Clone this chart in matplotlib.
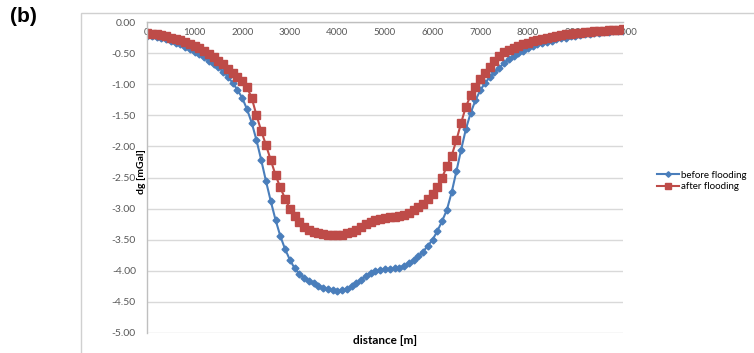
import matplotlib
matplotlib.use('Agg')
import matplotlib.pyplot as plt
import matplotlib as mpl
from matplotlib.patches import Rectangle
import numpy as np

# distance along profile [m], every 100 m
distance = list(range(0, 10001, 100))

before_flooding = [
    -0.22, -0.23, -0.24, -0.26, -0.28, -0.30, -0.33, -0.36, -0.40, -0.44,
    -0.48, -0.52, -0.57, -0.62, -0.67, -0.73, -0.80, -0.88, -0.98, -1.09,
    -1.22, -1.40, -1.62, -1.90, -2.22, -2.56, -2.88, -3.18, -3.44, -3.65,
    -3.82, -3.96, -4.05, -4.11, -4.16, -4.20, -4.24, -4.27, -4.30, -4.31,
    -4.32, -4.31, -4.29, -4.25, -4.20, -4.14, -4.08, -4.03, -4.00, -3.98,
    -3.97, -3.97, -3.96, -3.95, -3.92, -3.88, -3.83, -3.77, -3.69, -3.60,
    -3.50, -3.36, -3.20, -3.02, -2.74, -2.40, -2.05, -1.72, -1.46, -1.26,
    -1.10, -0.98, -0.89, -0.81, -0.74, -0.66, -0.60, -0.55, -0.50, -0.46,
    -0.42, -0.39, -0.36, -0.34, -0.32, -0.30, -0.28, -0.26, -0.25, -0.23,
    -0.22, -0.21, -0.20, -0.19, -0.18, -0.17, -0.16, -0.155, -0.15, -0.14,
    -0.14,
]

after_flooding = [
    -0.18, -0.19, -0.20, -0.21, -0.23, -0.25, -0.27, -0.29, -0.32, -0.35,
    -0.38, -0.42, -0.47, -0.52, -0.57, -0.62, -0.68, -0.75, -0.82, -0.89,
    -0.95, -1.05, -1.22, -1.50, -1.75, -1.98, -2.22, -2.46, -2.66, -2.84,
    -3.00, -3.12, -3.22, -3.29, -3.34, -3.37, -3.39, -3.41, -3.42, -3.43,
    -3.43, -3.42, -3.40, -3.37, -3.34, -3.30, -3.25, -3.21, -3.18, -3.16,
    -3.15, -3.14, -3.13, -3.12, -3.10, -3.07, -3.03, -2.98, -2.92, -2.85,
    -2.76, -2.65, -2.50, -2.32, -2.15, -1.90, -1.62, -1.36, -1.18, -1.05,
    -0.92, -0.82, -0.72, -0.63, -0.55, -0.49, -0.45, -0.41, -0.38, -0.35,
    -0.33, -0.31, -0.29, -0.27, -0.25, -0.24, -0.22, -0.21, -0.20, -0.19,
    -0.18, -0.17, -0.165, -0.16, -0.15, -0.145, -0.14, -0.135, -0.13, -0.125,
    -0.12,
]

x_ticks = [0, 1000, 2000, 3000, 4000, 5000, 6000, 7000, 8000, 9000, 10000]
y_ticks = [0.0, -0.5, -1.0, -1.5, -2.0, -2.5, -3.0, -3.5, -4.0, -4.5, -5.0]

mpl.rcParams.update({
    "font.family": ["Lato", "DejaVu Sans"],
    "font.size": 7,
})

W, H = 754, 353
fig = plt.figure(figsize=(W / 100, H / 100), dpi=100)

# outer chart frame (Excel style)
fig.patches.append(Rectangle((81 / W, -0.1), 1.0, 1 - 13 / H + 0.1,
                             transform=fig.transFigure, fill=False,
                             edgecolor="#d0d0d0", linewidth=1.0))

ax = fig.add_axes([147 / W, 1 - 333 / H, 476 / W, 311 / H])

# horizontal gridlines kept below the series
for v in y_ticks:
    ax.axhline(v, color="#d9d9d9", linewidth=1.0, zorder=0.5)

ax.plot(distance, before_flooding, color="#4a7ebb", marker="D", markersize=3.5,
        linewidth=1.5, label="before flooding", zorder=2.0)
ax.plot(distance, after_flooding, color="#be4b48", marker="s", markersize=5.5,
        linewidth=1.5, label="after flooding", zorder=2.1)

ax.set_xlim(0, 10000)
ax.set_ylim(-5.0, 0.0)
ax.set_xticks(x_ticks)
ax.set_yticks(y_ticks)
ax.set_yticklabels([f"{v:.2f}" for v in y_ticks])

for side in ["right", "bottom"]:
    ax.spines[side].set_visible(False)
for side in ["top", "left"]:
    ax.spines[side].set_color("#bfbfbf")
    ax.spines[side].set_linewidth(1.0)

ax.xaxis.set_ticks_position("top")
ax.tick_params(axis="x", length=0, labeltop=True, labelbottom=False,
               pad=-11, labelsize=7, labelcolor="#595959")
ax.tick_params(axis="y", length=0, pad=8, labelsize=7.5, labelcolor="#595959")

fig.text(141 / W, 1 - 172 / H, "dg [mGal]", rotation=90, ha="center",
         va="center", fontsize=7.5, fontweight="bold")
fig.text(385 / W, 1 - 341 / H, "distance [m]", ha="center", va="center",
         fontsize=8.5, fontweight="bold")
fig.text(10 / W, 1 - 17 / H, "(b)", ha="left", va="center", fontsize=15,
         fontweight="bold", family="Liberation Sans")

ax.legend(loc="center left", bbox_to_anchor=(648 / W, 1 - 181 / H),
          bbox_transform=fig.transFigure, frameon=False, fontsize=7,
          handlelength=2.3, handletextpad=0.2, labelspacing=0.3,
          markerscale=0.8)

fig.savefig("out.png", dpi=100)
